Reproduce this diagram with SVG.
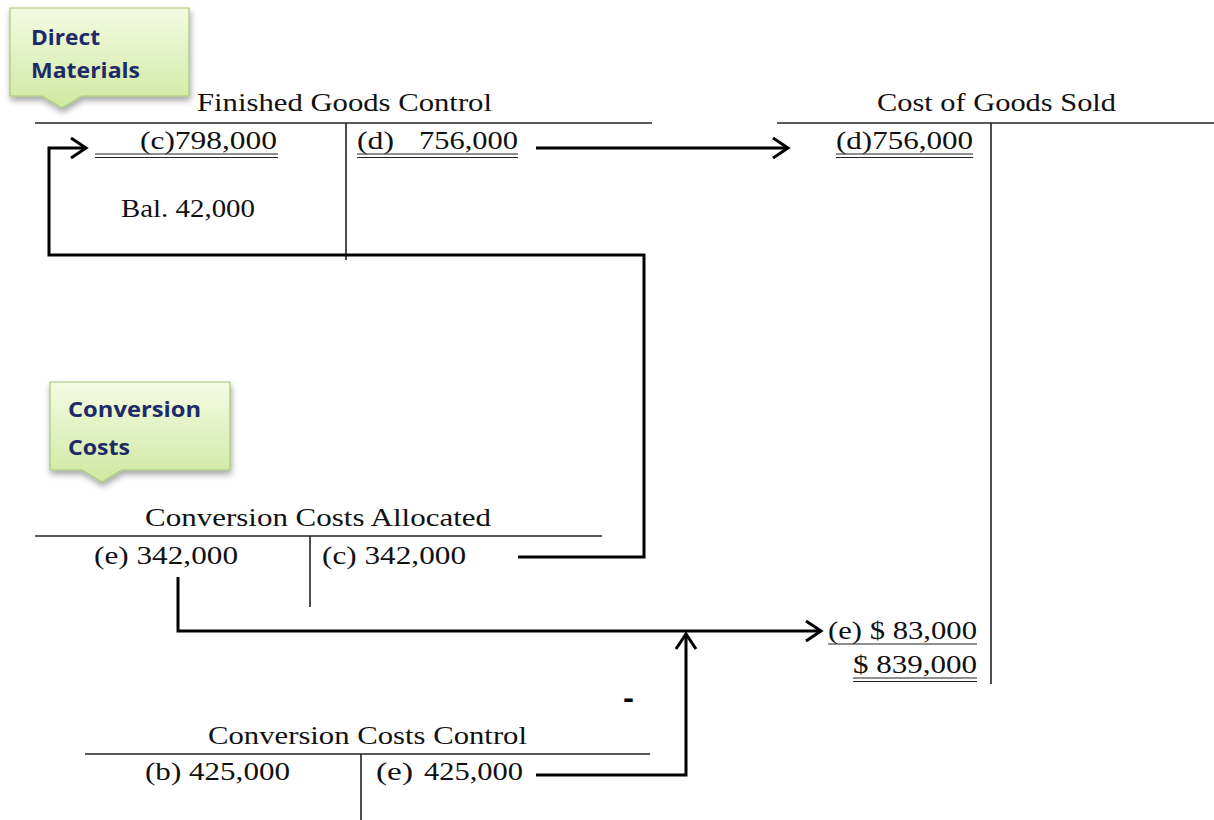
<svg xmlns="http://www.w3.org/2000/svg" width="1214" height="820" viewBox="0 0 1214 820">
<style>
.t{font-family:"Liberation Serif","Times New Roman",serif;font-size:26px;fill:#111}
.c{font-family:"Open Sans","Liberation Sans",sans-serif;font-weight:bold;font-size:21px;fill:#1c2a68}
.acct{stroke:#222;stroke-width:1.6;fill:none}
.ul{stroke:#222;stroke-width:1.2;fill:none}
.conn{stroke:#000;stroke-width:3;fill:none;stroke-linejoin:miter}
.callout{fill:url(#g);stroke:#a6c873;stroke-width:1.2;filter:url(#sh)}
</style>
<defs>
<linearGradient id="g" x1="0" y1="0" x2="0" y2="1">
<stop offset="0" stop-color="#f5fbe3"/>
<stop offset="1" stop-color="#cfe8a2"/>
</linearGradient>
<filter id="sh" x="-20%" y="-20%" width="140%" height="150%">
<feDropShadow dx="1" dy="4" stdDeviation="3" flood-color="#000" flood-opacity="0.35"/>
</filter>
<marker id="ah" markerUnits="userSpaceOnUse" markerWidth="40" markerHeight="40" viewBox="-20 -20 40 40" refX="0" refY="0" orient="auto" overflow="visible">
<path d="M-15,-10 L0,0 L-15,10" fill="none" stroke="#000" stroke-width="3"/>
</marker>
</defs>

<g id="callout-direct-materials">
<path class="callout" d="M10,8 H189 V96 H82 L62,108 L42,96 H10 Z"/>
<text class="c" x="31" y="45" textLength="69" lengthAdjust="spacingAndGlyphs">Direct</text>
<text class="c" x="31" y="78" textLength="109" lengthAdjust="spacingAndGlyphs">Materials</text>
</g>

<g id="callout-conversion-costs">
<path class="callout" d="M50,382 H230 V470 H122 L102,482 L82,470 H50 Z"/>
<text class="c" x="68" y="417" textLength="133" lengthAdjust="spacingAndGlyphs">Conversion</text>
<text class="c" x="68" y="455" textLength="62" lengthAdjust="spacingAndGlyphs">Costs</text>
</g>

<g id="finished-goods-control">
<text class="t" x="197" y="111" textLength="295" lengthAdjust="spacingAndGlyphs">Finished Goods Control</text>
<line class="acct" x1="35" y1="123" x2="652" y2="123"/>
<line class="acct" x1="346" y1="123" x2="346" y2="260"/>
<text class="t" x="140" y="149" textLength="137" lengthAdjust="spacingAndGlyphs">(c)798,000</text>
<line class="ul" x1="95" y1="154" x2="278" y2="154"/>
<line class="ul" x1="95" y1="157.5" x2="278" y2="157.5"/>
<text class="t" x="357" y="149" textLength="37" lengthAdjust="spacingAndGlyphs">(d)</text>
<text class="t" x="419" y="149" textLength="99" lengthAdjust="spacingAndGlyphs">756,000</text>
<line class="ul" x1="357" y1="154" x2="518" y2="154"/>
<line class="ul" x1="357" y1="157.5" x2="518" y2="157.5"/>
<text class="t" x="121" y="217" textLength="134" lengthAdjust="spacingAndGlyphs">Bal. 42,000</text>
</g>

<g id="cost-of-goods-sold">
<text class="t" x="877" y="111" textLength="239" lengthAdjust="spacingAndGlyphs">Cost of Goods Sold</text>
<line class="acct" x1="777" y1="123" x2="1214" y2="123"/>
<line class="acct" x1="991" y1="123" x2="991" y2="684"/>
<text class="t" x="836" y="149" textLength="137" lengthAdjust="spacingAndGlyphs">(d)756,000</text>
<line class="ul" x1="836" y1="154" x2="973" y2="154"/>
<line class="ul" x1="836" y1="157.5" x2="973" y2="157.5"/>
<text class="t" x="828" y="639" textLength="149" lengthAdjust="spacingAndGlyphs">(e) $ 83,000</text>
<line class="ul" x1="828" y1="644" x2="977" y2="644"/>
<text class="t" x="853" y="673" textLength="124" lengthAdjust="spacingAndGlyphs">$ 839,000</text>
<line class="ul" x1="853" y1="678" x2="977" y2="678"/>
<line class="ul" x1="853" y1="681.5" x2="977" y2="681.5"/>
</g>

<g id="conversion-costs-allocated">
<text class="t" x="145" y="526" textLength="346" lengthAdjust="spacingAndGlyphs">Conversion Costs Allocated</text>
<line class="acct" x1="35" y1="536" x2="602" y2="536"/>
<line class="acct" x1="310" y1="536" x2="310" y2="607"/>
<text class="t" x="94" y="564" textLength="144" lengthAdjust="spacingAndGlyphs">(e) 342,000</text>
<text class="t" x="322" y="564" textLength="144" lengthAdjust="spacingAndGlyphs">(c) 342,000</text>
</g>

<g id="conversion-costs-control">
<text class="t" x="208" y="744" textLength="319" lengthAdjust="spacingAndGlyphs">Conversion Costs Control</text>
<line class="acct" x1="85" y1="754" x2="650" y2="754"/>
<line class="acct" x1="361" y1="754" x2="361" y2="820"/>
<text class="t" x="145" y="780" textLength="145" lengthAdjust="spacingAndGlyphs">(b) 425,000</text>
<text class="t" x="376" y="780" textLength="37" lengthAdjust="spacingAndGlyphs">(e)</text>
<text class="t" x="424" y="780" textLength="99" lengthAdjust="spacingAndGlyphs">425,000</text>
</g>

<text x="623" y="708" textLength="11" lengthAdjust="spacingAndGlyphs" style="font-family:'Liberation Sans',Arial,sans-serif;font-weight:bold;font-size:30px;fill:#000">-</text>

<g id="connectors">
<path class="conn" d="M536,148 H788" marker-end="url(#ah)"/>
<path class="conn" d="M518,557 H644 V255 H49 V148 H86" marker-end="url(#ah)"/>
<path class="conn" d="M178,577 V631 H821" marker-end="url(#ah)"/>
<path class="conn" d="M536,775 H686 V634" marker-end="url(#ah)"/>
</g>
</svg>
